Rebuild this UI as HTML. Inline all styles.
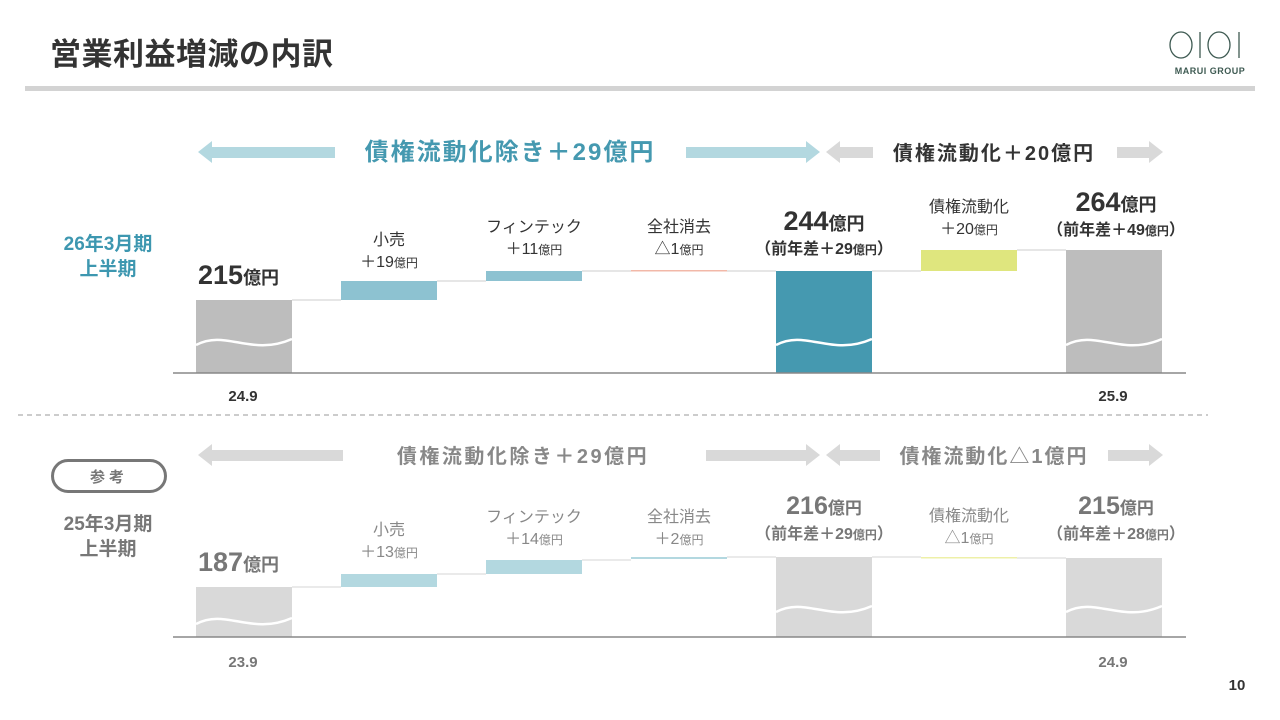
<!DOCTYPE html>
<html><head><meta charset="utf-8"><style>
body{margin:0;background:#fff;}
svg{display:block;font-family:"Liberation Sans","Noto Sans CJK JP",sans-serif;}
.b{font-weight:bold;}
</style></head><body>
<svg width="1280" height="720" viewBox="0 0 1280 720" xmlns="http://www.w3.org/2000/svg">
<defs>
<g id="wv"><path d="M0,0 C30,-16 55,12 96,-6" fill="none" stroke="#fff" stroke-width="2.5"/></g>
</defs>
<!-- header -->
<text x="50" y="65" font-size="31" class="b" fill="#333" letter-spacing="0.5">営業利益増減の内訳</text>
<rect x="25" y="86" width="1230" height="5" fill="#d3d3d3"/>
<g fill="none" stroke="#3e5a52" stroke-width="1.3">
<ellipse cx="1181" cy="45" rx="11" ry="13"/><line x1="1200" y1="32" x2="1200" y2="58"/><ellipse cx="1219" cy="45" rx="11" ry="13"/><line x1="1239" y1="32" x2="1239" y2="58"/>
</g>
<text x="1210" y="74" font-size="9" fill="#3e5a52" text-anchor="middle" class="b" letter-spacing="0.5">MARUI GROUP</text>

<!-- top arrows -->
<polygon points="198,152 212,141 212,147 335,147 335,158 212,158 212,163" fill="#b3d8e0"/>
<polygon points="820,152 806,141 806,147 686,147 686,158 806,158 806,163" fill="#b3d8e0"/>
<text x="510" y="160" font-size="24" class="b" fill="#4599b0" text-anchor="middle" letter-spacing="2">債権流動化除き＋29億円</text>
<polygon points="826,152 840,141 840,147 873,147 873,158 840,158 840,163" fill="#d9d9d9"/>
<polygon points="1163,152 1149,141 1149,147 1117,147 1117,158 1149,158 1149,163" fill="#d9d9d9"/>
<text x="994" y="160" font-size="20" class="b" fill="#333" text-anchor="middle" letter-spacing="2">債権流動化＋20億円</text>

<!-- top labels left -->
<text x="108" y="250" font-size="19" class="b" fill="#3d97b0" text-anchor="middle">26年3月期</text>
<text x="108" y="275" font-size="19" class="b" fill="#3d97b0" text-anchor="middle">上半期</text>

<!-- top chart -->
<g stroke="#ddd" stroke-width="1.5">
<line x1="292" y1="300" x2="341" y2="300"/><line x1="437" y1="281" x2="486" y2="281"/><line x1="582" y1="271" x2="631" y2="271"/><line x1="727" y1="271" x2="776" y2="271"/><line x1="872" y1="271" x2="921" y2="271"/><line x1="1017" y1="250" x2="1066" y2="250"/>
</g>
<rect x="196" y="300" width="96" height="73" fill="#bdbdbd"/>
<rect x="341" y="281" width="96" height="19" fill="#8dc2d1"/>
<rect x="486" y="271" width="96" height="10" fill="#8dc2d1"/>
<rect x="631" y="270" width="96" height="1.5" fill="#f2b8a8"/>
<rect x="776" y="271" width="96" height="102" fill="#4599b0"/>
<rect x="921" y="250" width="96" height="21" fill="#dfe67e"/>
<rect x="1066" y="250" width="96" height="123" fill="#bdbdbd"/>
<use href="#wv" x="196" y="345"/><use href="#wv" x="776" y="345"/><use href="#wv" x="1066" y="345"/>
<line x1="173" y1="373" x2="1186" y2="373" stroke="#888" stroke-width="1.5"/>

<text x="198" y="284" font-size="27" class="b" fill="#333">215<tspan font-size="18">億円</tspan></text>
<text x="389" y="245" font-size="16" fill="#333" text-anchor="middle">小売</text>
<text x="389" y="267" font-size="16" fill="#333" text-anchor="middle">＋19<tspan font-size="12">億円</tspan></text>
<text x="534" y="232" font-size="16" fill="#333" text-anchor="middle">フィンテック</text>
<text x="534" y="254" font-size="16" fill="#333" text-anchor="middle">＋11<tspan font-size="12">億円</tspan></text>
<text x="679" y="232" font-size="16" fill="#333" text-anchor="middle">全社消去</text>
<text x="679" y="254" font-size="16" fill="#333" text-anchor="middle">△1<tspan font-size="12">億円</tspan></text>
<text x="824" y="230" font-size="27" class="b" fill="#333" text-anchor="middle">244<tspan font-size="18">億円</tspan></text>
<text x="824" y="254" font-size="16" class="b" fill="#333" text-anchor="middle">（前年差＋29<tspan font-size="12">億円</tspan>）</text>
<text x="969" y="212" font-size="16" fill="#333" text-anchor="middle">債権流動化</text>
<text x="969" y="234" font-size="16" fill="#333" text-anchor="middle">＋20<tspan font-size="12">億円</tspan></text>
<text x="1116" y="211" font-size="27" class="b" fill="#333" text-anchor="middle">264<tspan font-size="18">億円</tspan></text>
<text x="1116" y="235" font-size="16" class="b" fill="#333" text-anchor="middle">（前年差＋49<tspan font-size="12">億円</tspan>）</text>
<text x="243" y="401" font-size="15" class="b" fill="#333" text-anchor="middle">24.9</text>
<text x="1113" y="401" font-size="15" class="b" fill="#333" text-anchor="middle">25.9</text>

<line x1="18" y1="415" x2="1208" y2="415" stroke="#bbb" stroke-width="1.5" stroke-dasharray="5,4"/>

<!-- bottom arrows -->
<polygon points="198,455 212,444 212,450 343,450 343,461 212,461 212,466" fill="#d9d9d9"/>
<polygon points="820,455 806,444 806,450 706,450 706,461 806,461 806,466" fill="#d9d9d9"/>
<text x="523" y="463" font-size="20" class="b" fill="#888" text-anchor="middle" letter-spacing="2.5">債権流動化除き＋29億円</text>
<polygon points="826,455 840,444 840,450 880,450 880,461 840,461 840,466" fill="#d9d9d9"/>
<polygon points="1163,455 1149,444 1149,450 1108,450 1108,461 1149,461 1149,466" fill="#d9d9d9"/>
<text x="994" y="463" font-size="20" class="b" fill="#888" text-anchor="middle" letter-spacing="2">債権流動化△1億円</text>

<rect x="52.5" y="460.5" width="113" height="31" rx="15.5" fill="none" stroke="#777" stroke-width="3"/>
<text x="109" y="482" font-size="15" class="b" fill="#777" text-anchor="middle" letter-spacing="4">参考</text>
<text x="108" y="530" font-size="19" class="b" fill="#777" text-anchor="middle">25年3月期</text>
<text x="108" y="555" font-size="19" class="b" fill="#777" text-anchor="middle">上半期</text>

<g stroke="#e3e3e3" stroke-width="1.5">
<line x1="292" y1="587" x2="341" y2="587"/><line x1="437" y1="574" x2="486" y2="574"/><line x1="582" y1="560" x2="631" y2="560"/><line x1="727" y1="557" x2="776" y2="557"/><line x1="872" y1="557" x2="921" y2="557"/><line x1="1017" y1="558" x2="1066" y2="558"/>
</g>
<rect x="196" y="587" width="96" height="50" fill="#d9d9d9"/>
<rect x="341" y="574" width="96" height="13" fill="#b3d8e0"/>
<rect x="486" y="560" width="96" height="14" fill="#b3d8e0"/>
<rect x="631" y="557" width="96" height="2" fill="#b3d8e0"/>
<rect x="776" y="557" width="96" height="80" fill="#d9d9d9"/>
<rect x="921" y="557" width="96" height="1.5" fill="#eef0a8"/>
<rect x="1066" y="558" width="96" height="79" fill="#d9d9d9"/>
<use href="#wv" x="196" y="624"/><use href="#wv" x="776" y="612"/><use href="#wv" x="1066" y="612"/>
<line x1="173" y1="637" x2="1186" y2="637" stroke="#888" stroke-width="1.5"/>

<text x="198" y="571" font-size="27" class="b" fill="#777">187<tspan font-size="18">億円</tspan></text>
<text x="389" y="535" font-size="16" fill="#888" text-anchor="middle">小売</text>
<text x="389" y="557" font-size="16" fill="#888" text-anchor="middle">＋13<tspan font-size="12">億円</tspan></text>
<text x="534" y="522" font-size="16" fill="#888" text-anchor="middle">フィンテック</text>
<text x="534" y="544" font-size="16" fill="#888" text-anchor="middle">＋14<tspan font-size="12">億円</tspan></text>
<text x="679" y="522" font-size="16" fill="#888" text-anchor="middle">全社消去</text>
<text x="679" y="544" font-size="16" fill="#888" text-anchor="middle">＋2<tspan font-size="12">億円</tspan></text>
<text x="824" y="514" font-size="25" class="b" fill="#777" text-anchor="middle">216<tspan font-size="17">億円</tspan></text>
<text x="824" y="539" font-size="16" class="b" fill="#777" text-anchor="middle">（前年差＋29<tspan font-size="12">億円</tspan>）</text>
<text x="969" y="521" font-size="16" fill="#888" text-anchor="middle">債権流動化</text>
<text x="969" y="543" font-size="16" fill="#888" text-anchor="middle">△1<tspan font-size="12">億円</tspan></text>
<text x="1116" y="514" font-size="25" class="b" fill="#777" text-anchor="middle">215<tspan font-size="17">億円</tspan></text>
<text x="1116" y="539" font-size="16" class="b" fill="#777" text-anchor="middle">（前年差＋28<tspan font-size="12">億円</tspan>）</text>
<text x="243" y="667" font-size="15" class="b" fill="#777" text-anchor="middle">23.9</text>
<text x="1113" y="667" font-size="15" class="b" fill="#777" text-anchor="middle">24.9</text>

<text x="1237" y="690" font-size="15" class="b" fill="#333" text-anchor="middle">10</text>
</svg>
</body></html>
